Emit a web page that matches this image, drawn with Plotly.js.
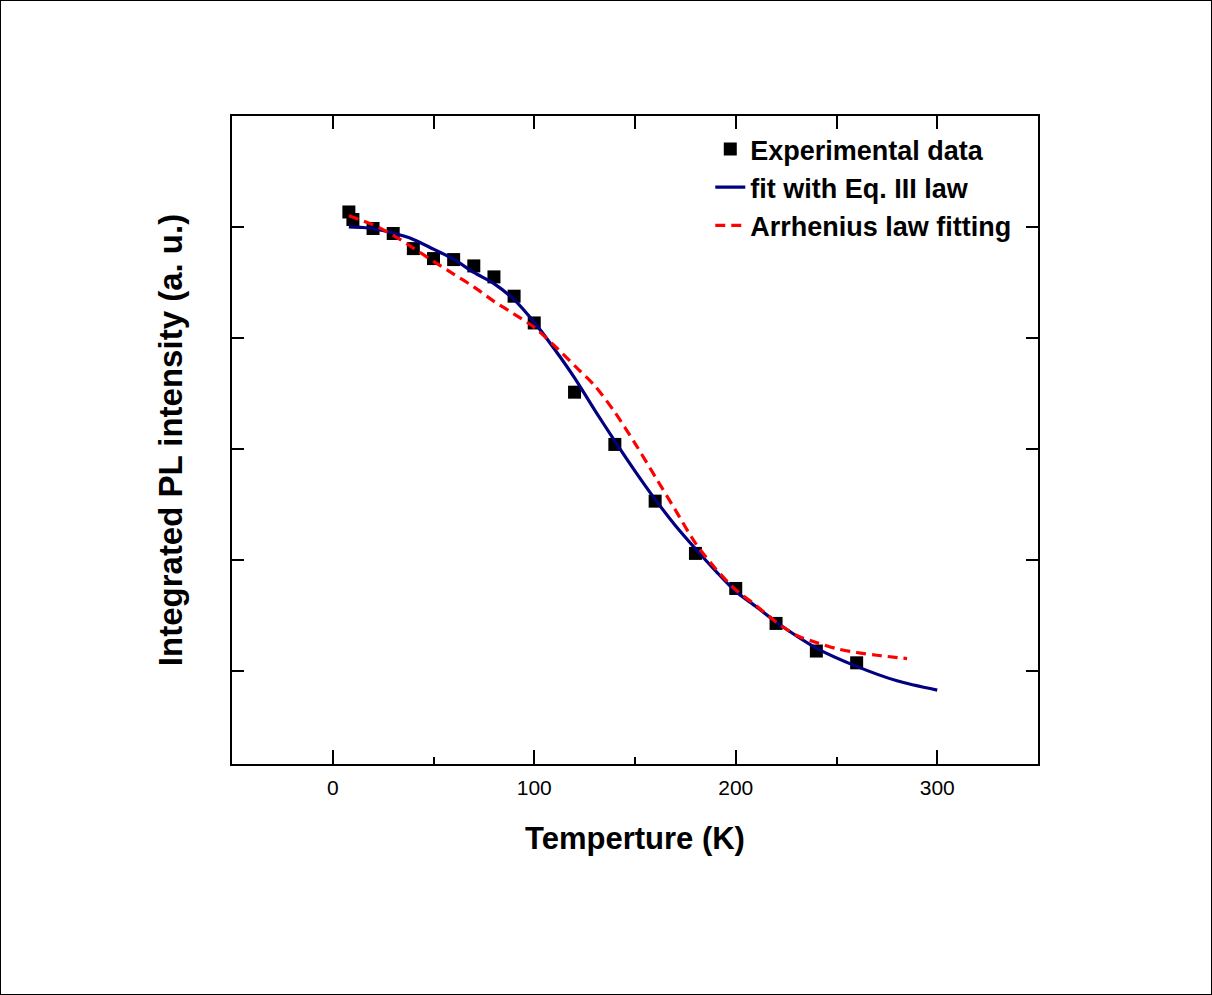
<!DOCTYPE html>
<html>
<head>
<meta charset="utf-8">
<script src="https://cdn.plot.ly/plotly-3.0.1.min.js"></script>
<style>
  html, body { margin: 0; padding: 0; background: #fff; }
  #chart { position: absolute; left: 0; top: 0; width: 1212px; height: 995px; box-sizing: border-box; border: 1px solid #000; }
</style>
</head>
<body>
<div id="chart"></div>
<script>
// Experimental data
const expT = [8, 10, 20, 30, 40, 50, 60, 70, 80, 90, 100, 120, 140, 160, 180, 200, 220, 240, 260];
const expI = [5.135, 5.067, 4.986, 4.941, 4.805, 4.715, 4.706, 4.649, 4.550, 4.376, 4.135, 3.511, 3.040, 2.529, 2.058, 1.742, 1.427, 1.178, 1.072];

// Fit with Eq. III law
const fitT = [8, 15, 20, 30, 40, 50, 60, 70, 80, 90, 100, 110, 120, 130, 140, 150, 160, 170, 180, 190, 200, 210, 220, 240, 260, 280, 300];
const fitI = [5.00, 4.995, 4.985, 4.945, 4.888, 4.80, 4.71, 4.59, 4.49, 4.345, 4.14, 3.90, 3.64, 3.35, 3.07, 2.80, 2.545, 2.31, 2.10, 1.90, 1.715, 1.58, 1.44, 1.205, 1.04, 0.91, 0.826];

// Arrhenius law fitting
const arrT = [8, 20, 30, 40, 50, 60, 70, 80, 90, 100, 110, 120, 130, 140, 150, 160, 170, 180, 190, 200, 210, 220, 230, 240, 250, 260, 270, 285];
const arrI = [5.10, 5.02, 4.925, 4.81, 4.69, 4.575, 4.46, 4.33, 4.215, 4.095, 3.93, 3.75, 3.57, 3.33, 3.05, 2.75, 2.45, 2.15, 1.92, 1.73, 1.59, 1.44, 1.32, 1.255, 1.20, 1.165, 1.14, 1.11];

// Axis labels
const xTitle = 'Temperture (K)';
const yTitle = 'Integrated PL intensity (a. u.)';
const names = ['Experimental data', 'fit with Eq. III law', 'Arrhenius law fitting'];

const FONT = 'Liberation Sans, Arial, Helvetica, sans-serif';

const traces = [
  {
    x: expT, y: expI, name: names[0], type: 'scatter', mode: 'markers',
    marker: { symbol: 'square', size: 13, color: '#000000' },
    legendgroup: 'a', cliponaxis: false
  },
  {
    x: fitT, y: fitI, name: names[1], type: 'scatter', mode: 'lines',
    line: { color: '#000080', width: 3.2, shape: 'spline', smoothing: 0.8 },
    legendgroup: 'b'
  },
  {
    x: arrT, y: arrI, name: names[2], type: 'scatter', mode: 'lines',
    line: { color: '#ff0000', width: 3.2, dash: '10px,6px', shape: 'spline', smoothing: 0.8 },
    legendgroup: 'c'
  }
];

const layout = {
  width: 1210, height: 993,
  margin: { l: 231, r: 173, t: 115, b: 230, pad: 0 },
  paper_bgcolor: '#ffffff', plot_bgcolor: '#ffffff',
  font: { family: FONT, color: '#000000' },
  showlegend: true,
  legend: {
    x: 0.5934, y: 0.986, xanchor: 'left', yanchor: 'top',
    bgcolor: 'rgba(0,0,0,0)', borderwidth: 0,
    font: { family: FONT, size: 27, color: '#000000', weight: 'bold' },
    tracegroupgap: 0, itemwidth: 30
  },
  xaxis: {
    range: [-50, 350], autorange: false,
    tickmode: 'linear', tick0: 0, dtick: 100,
    ticks: 'inside', ticklen: 14, tickwidth: 2, tickcolor: '#000',
    minor: { tickmode: 'linear', tick0: 0, dtick: 50, ticks: 'inside', ticklen: 7, tickwidth: 2, tickcolor: '#000' },
    showline: true, linecolor: '#000', linewidth: 2, mirror: true,
    showgrid: false, zeroline: false,
    ticklabelstandoff: 4,
    tickfont: { family: FONT, size: 21, color: '#000' },
    title: { text: xTitle, font: { family: FONT, size: 31, color: '#000', weight: 'bold' }, standoff: 29 }
  },
  xaxis2: {
    overlaying: 'x', matches: 'x', side: 'top', anchor: 'y',
    range: [-50, 350], autorange: false,
    tickmode: 'linear', tick0: 0, dtick: 50,
    ticks: 'inside', ticklen: 13, tickwidth: 2, tickcolor: '#000',
    showticklabels: false, showline: false, showgrid: false, zeroline: false
  },
  yaxis: {
    range: [0.16, 6.0], autorange: false,
    tickmode: 'linear', tick0: 1, dtick: 1,
    ticks: 'inside', ticklen: 12, tickwidth: 2, tickcolor: '#000',
    showticklabels: false,
    showline: true, linecolor: '#000', linewidth: 2, mirror: 'ticks',
    showgrid: false, zeroline: false,
    title: { text: yTitle, font: { family: FONT, size: 33, color: '#000', weight: 'bold' }, standoff: 37 }
  }
};

// invisible helper trace so the top tick axis is drawn
traces.push({ x: [expT[0]], y: [expI[0]], xaxis: 'x2', yaxis: 'y', mode: 'markers', marker: { opacity: 0 }, showlegend: false, hoverinfo: 'skip' });

Plotly.newPlot('chart', traces, layout, { displayModeBar: false, staticPlot: true });
</script>
</body>
</html>
